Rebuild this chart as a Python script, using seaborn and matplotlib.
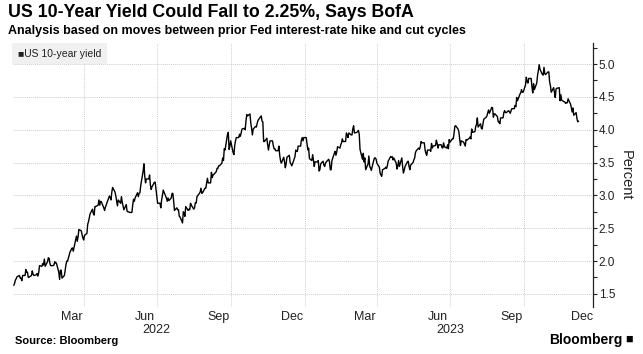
import pandas as pd
import matplotlib.pyplot as plt
from matplotlib.ticker import MultipleLocator
import seaborn as sns

# US 10-year Treasury yield, business days (holidays carry previous close)
yields_2022 = [
    1.63, 1.66, 1.71, 1.73, 1.76, 1.78, 1.74, 1.74, 1.70, 1.78, 1.78, 1.87, 1.83, 1.83, 1.75, 1.77, 1.78, 1.85, 1.80, 1.78, 1.79,  # Jan
    1.81, 1.77, 1.82, 1.93, 1.92, 1.96, 1.94, 2.03, 1.92, 1.99, 2.05, 2.04, 1.96, 1.93, 1.93, 1.94, 1.99, 1.97, 1.97, 1.83,  # Feb
    1.72, 1.86, 1.86, 1.74, 1.78, 1.86, 1.95, 2.00, 2.00, 2.14, 2.16, 2.19, 2.20, 2.15, 2.32, 2.38, 2.30, 2.37, 2.48, 2.46, 2.40, 2.35, 2.32,  # Mar
    2.39, 2.42, 2.56, 2.60, 2.66, 2.72, 2.79, 2.72, 2.70, 2.83, 2.83, 2.85, 2.93, 2.85, 2.91, 2.90, 2.81, 2.77, 2.82, 2.85, 2.89,  # Apr
    2.99, 2.97, 2.93, 3.05, 3.12, 3.05, 2.99, 2.91, 2.84, 2.93, 2.88, 2.98, 2.89, 2.84, 2.78, 2.86, 2.76, 2.75, 2.75, 2.74, 2.74, 2.85,  # May
    2.94, 2.91, 2.96, 3.04, 2.98, 3.03, 3.04, 3.15, 3.37, 3.48, 3.29, 3.19, 3.25, 3.25, 3.31, 3.16, 3.09, 3.13, 3.20, 3.20, 3.09, 2.98,  # Jun
    2.88, 2.88, 2.81, 2.93, 3.00, 3.08, 2.99, 2.96, 2.91, 2.96, 2.92, 2.96, 3.03, 3.03, 2.91, 2.77, 2.81, 2.78, 2.78, 2.68, 2.67,  # Jul
    2.58, 2.75, 2.73, 2.68, 2.83, 2.77, 2.79, 2.78, 2.88, 2.85, 2.79, 2.81, 2.89, 2.88, 2.98, 3.03, 3.05, 3.11, 3.03, 3.04, 3.11, 3.11, 3.19,  # Aug
    3.26, 3.19, 3.19, 3.35, 3.27, 3.31, 3.32, 3.36, 3.41, 3.41, 3.45, 3.45, 3.49, 3.57, 3.53, 3.71, 3.69, 3.93, 3.96, 3.70, 3.75, 3.83,  # Sep
    3.65, 3.62, 3.76, 3.83, 3.88, 3.88, 3.93, 3.90, 3.95, 4.01, 4.02, 4.00, 4.13, 4.23, 4.21, 4.24, 4.10, 4.02, 3.92, 4.01, 4.05,  # Oct
    4.04, 4.10, 4.14, 4.16, 4.21, 4.13, 4.12, 3.82, 3.82, 3.87, 3.77, 3.69, 3.77, 3.83, 3.83, 3.76, 3.71, 3.71, 3.68, 3.68, 3.75, 3.61,  # Nov
    3.53, 3.49, 3.58, 3.51, 3.42, 3.48, 3.58, 3.61, 3.50, 3.48, 3.45, 3.48, 3.59, 3.69, 3.67, 3.67, 3.75, 3.75, 3.84, 3.88, 3.83, 3.88,  # Dec
]
yields_2023 = [
    3.88, 3.79, 3.69, 3.72, 3.56, 3.53, 3.62, 3.54, 3.44, 3.51, 3.51, 3.53, 3.37, 3.39, 3.48, 3.52, 3.46, 3.44, 3.49, 3.51, 3.55, 3.51,  # Jan
    3.39, 3.39, 3.53, 3.64, 3.67, 3.61, 3.66, 3.74, 3.72, 3.77, 3.80, 3.86, 3.82, 3.82, 3.95, 3.92, 3.88, 3.95, 3.92, 3.92,  # Feb
    4.01, 4.06, 3.95, 3.96, 3.97, 3.99, 3.93, 3.70, 3.55, 3.64, 3.51, 3.57, 3.39, 3.48, 3.60, 3.44, 3.42, 3.38, 3.53, 3.57, 3.57, 3.55, 3.49,  # Mar
    3.43, 3.34, 3.31, 3.29, 3.39, 3.41, 3.43, 3.41, 3.45, 3.52, 3.59, 3.58, 3.59, 3.54, 3.57, 3.49, 3.40, 3.45, 3.53, 3.44,  # Apr
    3.57, 3.44, 3.34, 3.38, 3.44, 3.51, 3.52, 3.44, 3.39, 3.46, 3.50, 3.54, 3.57, 3.65, 3.68, 3.72, 3.70, 3.74, 3.82, 3.80, 3.80, 3.69, 3.64,  # May
    3.61, 3.69, 3.69, 3.67, 3.79, 3.72, 3.75, 3.76, 3.84, 3.79, 3.72, 3.77, 3.77, 3.73, 3.72, 3.80, 3.74, 3.72, 3.77, 3.71, 3.85, 3.81,  # Jun
    3.86, 3.86, 3.94, 4.05, 4.06, 4.01, 3.97, 3.86, 3.76, 3.83, 3.81, 3.78, 3.75, 3.85, 3.84, 3.87, 3.89, 3.86, 4.01, 3.96, 3.97,  # Jul
    4.05, 4.08, 4.18, 4.04, 4.09, 4.02, 4.01, 4.09, 4.16, 4.19, 4.21, 4.26, 4.30, 4.25, 4.34, 4.33, 4.19, 4.24, 4.24, 4.20, 4.12, 4.12, 4.09,  # Aug
    4.18, 4.18, 4.26, 4.29, 4.26, 4.26, 4.29, 4.27, 4.25, 4.29, 4.32, 4.32, 4.37, 4.35, 4.49, 4.44, 4.54, 4.56, 4.61, 4.57, 4.57,  # Sep
    4.68, 4.80, 4.73, 4.71, 4.78, 4.78, 4.65, 4.56, 4.70, 4.61, 4.71, 4.83, 4.90, 4.99, 4.92, 4.84, 4.83, 4.95, 4.85, 4.84, 4.88, 4.88,  # Oct
    4.73, 4.67, 4.57, 4.64, 4.57, 4.49, 4.62, 4.63, 4.64, 4.44, 4.53, 4.45, 4.44, 4.42, 4.40, 4.41, 4.41, 4.47, 4.39, 4.34, 4.27, 4.33,  # Nov
    4.22, 4.26, 4.17, 4.12, 4.13,  # Dec
]

month_labels = ['Mar', 'Jun', 'Sep', 'Dec', 'Mar', 'Jun', 'Sep', 'Dec']
label_days = ['2022-03-16', '2022-06-15', '2022-09-15', '2022-12-16',
              '2023-03-16', '2023-06-15', '2023-09-15', '2023-12-12']
grid_days = ['2022-03-31', '2022-06-30', '2022-09-30', '2022-12-31',
             '2023-03-31', '2023-06-30', '2023-09-30']
y_grid = [1.5, 2.0, 2.5, 3.0, 3.5, 4.0, 4.5, 5.0]

df = pd.concat([
    pd.DataFrame({'date': pd.bdate_range('2022-01-03', periods=len(yields_2022)), 'yield': yields_2022}),
    pd.DataFrame({'date': pd.bdate_range('2023-01-02', periods=len(yields_2023)), 'yield': yields_2023}),
])

sns.set_style('white')
plt.rcParams['font.family'] = ['Liberation Sans', 'DejaVu Sans']

fig = plt.figure(figsize=(6.43, 3.54), dpi=100)
ax = fig.add_axes([13 / 643, 1 - 307 / 354, 580 / 643, 264 / 354])

sns.lineplot(data=df, x='date', y='yield', color='black', linewidth=1.0, ax=ax, legend=False)

ax.set_xlim(pd.Timestamp('2022-01-02'), pd.Timestamp('2023-12-25'))
ax.set_ylim(1.30, 5.32)

# quarter-end gridlines, month labels in the middle of the month
for d in pd.to_datetime(grid_days):
    ax.axvline(d, color='#cfcfcf', linestyle=(0, (1, 1)), linewidth=0.7, zorder=0)
for yv in y_grid:
    ax.axhline(yv, color='#cfcfcf', linestyle=(0, (1, 1)), linewidth=0.7, zorder=0)

ax.set_xticks(pd.to_datetime(label_days))
ax.set_xticklabels(month_labels, fontsize=9, color='#222222')
ax.tick_params(axis='x', length=0, pad=3)
for yr, d in [('2022', '2022-06-30'), ('2023', '2023-06-30')]:
    ax.text(pd.Timestamp(d), -0.066, yr, transform=ax.get_xaxis_transform(),
            ha='center', va='top', fontsize=9, color='#222222')

ax.yaxis.tick_right()
ax.yaxis.set_major_locator(MultipleLocator(0.5))
ax.yaxis.set_minor_locator(MultipleLocator(0.25))
ax.yaxis.set_major_formatter(plt.FuncFormatter(lambda v, p: f'{v:.1f}'))
ax.tick_params(axis='y', which='major', length=3, width=0.8, pad=1, labelsize=8.5,
               colors='#222222', right=True, left=False)
ax.tick_params(axis='y', which='minor', length=3, width=0.8, right=True, left=False,
               color='#222222')
ax.set_ylabel('')
ax.set_xlabel('')
ax.text(1.057, 0.5, 'Percent', transform=ax.transAxes, rotation=-90,
        ha='center', va='center', fontsize=10.5, color='#222222')

for s in ['top', 'left', 'bottom']:
    ax.spines[s].set_visible(False)
ax.spines['right'].set_color('#222222')
ax.spines['right'].set_linewidth(0.9)

# legend box
ax.text(0.008, 0.96, '\u25a0US 10-year yield', transform=ax.transAxes, ha='left', va='center',
        fontsize=7.5, color='#222222',
        bbox=dict(boxstyle='square,pad=0.55', facecolor='#f0f0f0', edgecolor='none'))

fig.text(8 / 643, 1 - 4 / 354, 'US 10-Year Yield Could Fall to 2.25%, Says BofA',
         ha='left', va='top', fontsize=12.8, fontweight='bold', color='black')
fig.text(8 / 643, 1 - 25 / 354, 'Analysis based on moves between prior Fed interest-rate hike and cut cycles',
         ha='left', va='top', fontsize=9.0, fontweight='bold', color='black')
fig.text(15 / 643, 1 - 341 / 354, 'Source: Bloomberg', ha='left', va='center',
         fontsize=8, fontweight='bold', color='black')
fig.text(622 / 643, 1 - 340 / 354, 'Bloomberg', ha='right', va='center',
         fontsize=10, fontweight='bold', color='black')
fig.text(625 / 643, 1 - 340 / 354, '\u25a0', ha='left', va='center', fontsize=9, color='black')

fig.savefig('out.png', dpi=100)
